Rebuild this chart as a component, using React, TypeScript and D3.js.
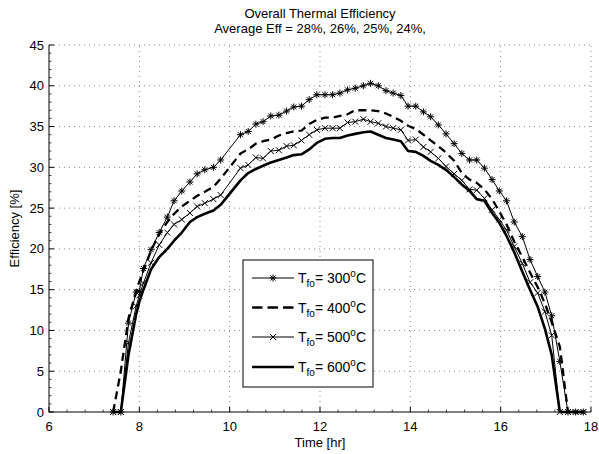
import React from "react";
import * as d3 from "d3";

const times = [7.42, 7.59, 7.76, 7.93, 8.0, 8.09, 8.26, 8.44, 8.62, 8.77, 8.94, 9.12, 9.28, 9.45, 9.64, 9.8,
  10.24, 10.41, 10.58, 10.74, 10.91, 11.09, 11.26, 11.42, 11.59, 11.76, 11.93, 12.11, 12.28, 12.44, 12.61, 12.78,
  12.96, 13.12, 13.29, 13.46, 13.62, 13.79, 13.95, 14.12, 14.29, 14.45, 14.62, 14.79, 14.97, 15.14, 15.31, 15.47,
  15.64, 15.81, 15.97, 16.13, 16.3, 16.48, 16.65, 16.82, 16.98, 17.13, 17.31, 17.49, 17.66, 17.83];

const eff300 = [0, 0, 10.9, 14.7, 14.8, 17.6, 19.9, 22.0, 23.9, 25.9, 27.1, 28.2, 29.2, 29.7, 30.0, 30.9,
  34.0, 34.4, 35.3, 35.6, 36.3, 36.4, 36.9, 37.4, 37.5, 38.3, 38.9, 38.9, 38.9, 39.1, 39.5, 39.7,
  40.0, 40.3, 40.0, 39.4, 39.1, 38.8, 37.5, 37.5, 36.8, 36.2, 35.2, 34.1, 32.9, 31.7, 30.9, 30.9,
  29.9, 28.5, 27.1, 25.9, 23.3, 21.5, 18.7, 16.6, 14.7, 11.8, 6.2, 0, 0, 0];

const eff400 = [0, 5.0, 11.5, 14.8, 16.0, 17.3, 19.8, 21.8, 23.3, 24.3, 25.2, 25.9, 26.5, 27.0, 27.6, 28.6,
  31.7, 32.2, 32.9, 33.2, 33.4, 33.9, 34.2, 34.4, 34.5, 35.3, 35.8, 36.1, 36.1, 36.3, 36.5, 37.0,
  37.0, 37.0, 36.9, 36.6, 36.2, 35.7, 35.1, 34.7, 34.0, 33.3, 32.6, 31.8, 30.8, 29.3, 28.5, 28.1,
  27.3, 26.1, 24.6, 23.0, 20.9, 19.0, 17.1, 15.3, 13.3, 11.0, 8.0, 0, 0, 0];

const eff500 = [0, 0, 8.5, 13.0, 14.3, 15.8, 18.3, 20.5, 22.0, 23.0, 23.6, 24.4, 25.2, 25.6, 26.1, 26.6,
  29.9, 30.3, 31.2, 31.1, 32.0, 32.1, 32.6, 32.7, 33.3, 34.0, 34.6, 34.8, 34.8, 34.8, 35.5, 35.6,
  35.9, 35.6, 35.4, 35.0, 34.8, 34.6, 33.3, 33.4, 32.5, 31.9, 31.1, 30.1, 29.2, 28.4, 27.3, 27.2,
  26.2, 24.8, 23.6, 22.3, 20.3, 18.2, 15.9, 14.6, 12.3, 9.4, 0, 0, 0, 0];

const eff600 = [0, 0, 7.0, 12.0, 13.5, 15.0, 17.5, 19.0, 20.0, 21.0, 22.0, 23.3, 23.9, 24.3, 24.7, 25.4,
  28.4, 29.3, 29.8, 30.2, 30.6, 30.9, 31.2, 31.5, 31.6, 32.2, 33.0, 33.5, 33.6, 33.6, 33.9, 34.1,
  34.3, 34.4, 34.0, 33.6, 33.4, 33.2, 32.0, 31.9, 31.4, 30.8, 30.3, 29.7, 28.8, 27.9, 27.1, 26.1,
  25.9, 24.4, 23.2, 21.6, 19.6, 17.2, 15.0, 12.9, 10.2, 7.0, 0, 0, 0, 0];

const legendTemps = ["300", "400", "500", "600"];
const xTicks = [6, 8, 10, 12, 14, 16, 18];
const yTicks = [0, 5, 10, 15, 20, 25, 30, 35, 40, 45];
const titleLines = ["Overall Thermal Efficiency", "Average Eff = 28%, 26%, 25%, 24%,"];

const W = 599, H = 454;
const L = 49, R = 591, T = 45, B = 412;
const FONT = "'Liberation Sans', Arial, Helvetica, sans-serif";

const starPath = "M-3.5,0L3.5,0M0,-3.5L0,3.5M-2.5,-2.5L2.5,2.5M-2.5,2.5L2.5,-2.5";
const xPath = "M-3,-3L3,3M-3,3L3,-3";

const series = [
  { values: eff300, width: 1, dash: undefined as string | undefined, marker: starPath },
  { values: eff400, width: 2.3, dash: "8,5", marker: null as string | null },
  { values: eff500, width: 1, dash: undefined, marker: xPath },
  { values: eff600, width: 2.6, dash: undefined, marker: null },
];

export default function App() {
  const x = d3.scaleLinear().domain([6, 18]).range([L, R]);
  const y = d3.scaleLinear().domain([0, 45]).range([B, T]);
  const line = d3.line<number>().x((_, i) => x(times[i])).y((d) => y(d));

  const yMinor = d3.range(0, 45.01, 1).filter((v) => v % 5 !== 0);
  const xMinor = d3.range(6, 18.01, 0.4).filter((v) => Math.abs(v / 2 - Math.round(v / 2)) > 0.01);

  const lgX = 243, lgY = 260, lgW = 130, lgH = 127;
  const rowY = [278, 307.5, 337, 367];

  return (
    <div style={{ position: "absolute", left: 0, top: 0 }}>
      <svg width={W} height={H} style={{ display: "block", background: "#fff" }} fontFamily={FONT}>
        <rect x={0} y={0} width={W} height={H} fill="#fff" />
        {/* grid */}
        <g stroke="#555" strokeWidth={0.7} strokeDasharray="1,4">
          {xTicks.slice(1).map((t) => (
            <line key={"gx" + t} x1={x(t)} x2={x(t)} y1={B} y2={T} />
          ))}
          {yTicks.slice(1).map((t) => (
            <line key={"gy" + t} x1={L} x2={R} y1={y(t)} y2={y(t)} />
          ))}
        </g>
        {/* axes */}
        <g stroke="#000" strokeWidth={1}>
          <line x1={L} x2={L} y1={B + 0.5} y2={T} />
          <line x1={L} x2={R} y1={B} y2={B} />
          {xTicks.map((t) => (
            <line key={"xt" + t} x1={x(t)} x2={x(t)} y1={B} y2={B - 5} />
          ))}
          {yTicks.map((t) => (
            <line key={"yt" + t} x1={L} x2={L + 5} y1={y(t)} y2={y(t)} />
          ))}
          {yMinor.map((t) => (
            <line key={"ym" + t} x1={L} x2={L + 2.5} y1={y(t)} y2={y(t)} strokeWidth={0.7} />
          ))}
          {xMinor.map((t) => (
            <line key={"xm" + t} x1={x(t)} x2={x(t)} y1={B} y2={B - 2.5} strokeWidth={0.7} />
          ))}
        </g>
        {/* tick labels */}
        <g fontSize={13} fill="#000">
          {xTicks.map((t) => (
            <text key={"xl" + t} x={x(t)} y={431} textAnchor="middle">{t}</text>
          ))}
          {yTicks.map((t) => (
            <text key={"yl" + t} x={44} y={y(t) + 4.5} textAnchor="end">{t}</text>
          ))}
        </g>
        {/* series */}
        {series.map((s, si) => (
          <g key={"s" + si}>
            <path d={line(s.values) || ""} fill="none" stroke="#000" strokeWidth={s.width}
              strokeDasharray={s.dash} strokeLinejoin="round" />
            {s.marker && s.values.map((v, i) => (
              <path key={i} d={s.marker as string} transform={`translate(${x(times[i])},${y(v)})`}
                stroke="#000" strokeWidth={1} fill="none" />
            ))}
          </g>
        ))}
        {/* titles */}
        <g fontSize={13} textAnchor="middle" fill="#000">
          <text x={(L + R) / 2} y={18}>{titleLines[0]}</text>
          <text x={(L + R) / 2} y={33}>{titleLines[1]}</text>
          <text x={(L + R) / 2} y={447}>Time [hr]</text>
          <text transform={`translate(19,${(T + B) / 2}) rotate(-90)`}>Efficiency [%]</text>
        </g>
        {/* legend */}
        <rect x={lgX} y={lgY} width={lgW} height={lgH} fill="#fff" stroke="#000" strokeWidth={1} />
        {series.map((s, si) => (
          <g key={"lg" + si}>
            <line x1={252} x2={294} y1={rowY[si]} y2={rowY[si]} stroke="#000" strokeWidth={s.width}
              strokeDasharray={s.dash ? "10.5,5" : undefined} />
            {s.marker && (
              <path d={s.marker} transform={`translate(273,${rowY[si]})`} stroke="#000" strokeWidth={1} fill="none" />
            )}
            <text x={298} y={rowY[si] + 5} fontSize={14} fill="#000">
              T<tspan fontSize={10} dy={4}>fo</tspan>
              <tspan dy={-4}>= {legendTemps[si]}</tspan>
              <tspan fontSize={10} dy={-6}>o</tspan>
              <tspan dy={6}>C</tspan>
            </text>
          </g>
        ))}
      </svg>
    </div>
  );
}
